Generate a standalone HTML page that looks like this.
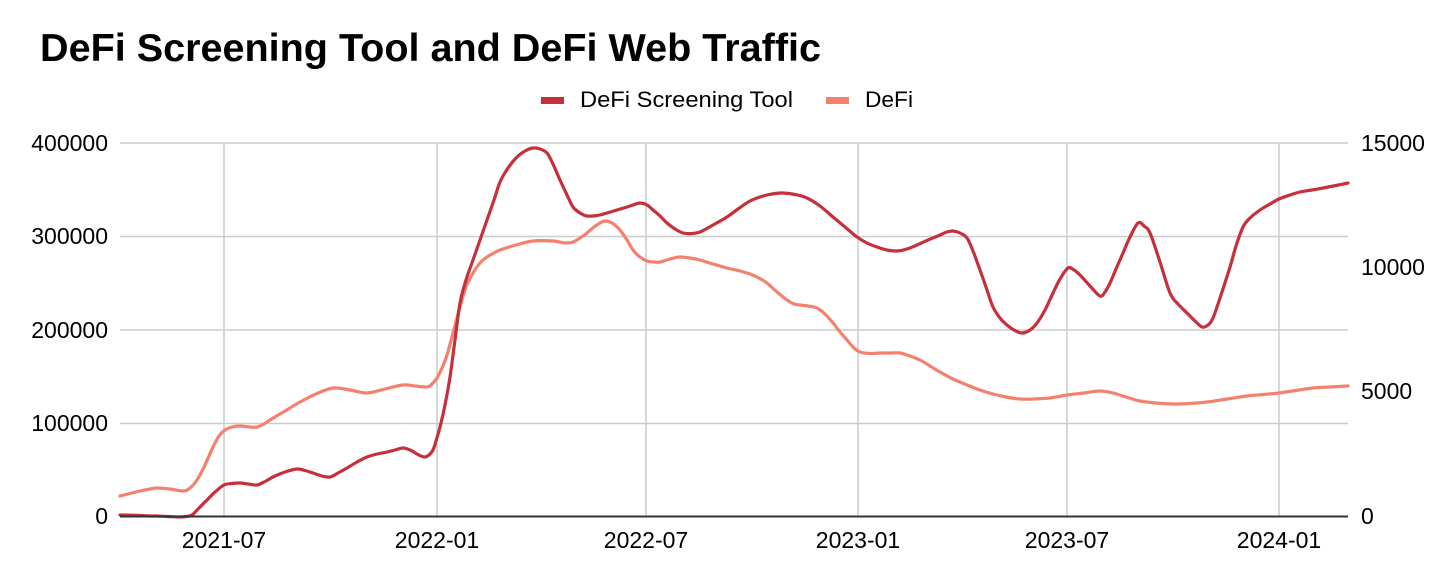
<!DOCTYPE html>
<html>
<head>
<meta charset="utf-8">
<style>
  html, body { margin:0; padding:0; background:#ffffff; }
  svg { display:block; }
  text { font-family: "Liberation Sans", Arial, Helvetica, sans-serif; fill:#000; }
</style>
</head>
<body>
<svg id="chart" width="1456" height="582" viewBox="0 0 1456 582" xmlns="http://www.w3.org/2000/svg">
  <rect x="0" y="0" width="1456" height="582" fill="#ffffff"/>

  <!-- Title -->
  <text x="40" y="61" font-size="39" font-weight="bold" textLength="781" lengthAdjust="spacingAndGlyphs">DeFi Screening Tool and DeFi Web Traffic</text>

  <!-- Legend -->
  <rect x="541" y="97" width="23" height="7" fill="#c5303a"/>
  <text x="580" y="107" font-size="22" textLength="213" lengthAdjust="spacingAndGlyphs">DeFi Screening Tool</text>
  <rect x="826" y="97" width="23" height="7" fill="#f4816e"/>
  <text x="865" y="107" font-size="22" textLength="48" lengthAdjust="spacingAndGlyphs">DeFi</text>

  <!-- Gridlines -->
  <g stroke="#cccccc" stroke-width="1.5">
    <line x1="120" y1="143" x2="1348" y2="143"/>
    <line x1="120" y1="236.5" x2="1348" y2="236.5"/>
    <line x1="120" y1="330" x2="1348" y2="330"/>
    <line x1="120" y1="423.5" x2="1348" y2="423.5"/>
    <line x1="224" y1="143" x2="224" y2="516"/>
    <line x1="437" y1="143" x2="437" y2="516"/>
    <line x1="646" y1="143" x2="646" y2="516"/>
    <line x1="858" y1="143" x2="858" y2="516"/>
    <line x1="1067" y1="143" x2="1067" y2="516"/>
    <line x1="1279" y1="143" x2="1279" y2="516"/>
  </g>

  <!-- Left axis labels -->
  <g font-size="23" text-anchor="end">
    <text x="108" y="151">400000</text>
    <text x="108" y="244">300000</text>
    <text x="108" y="338">200000</text>
    <text x="108" y="431">100000</text>
    <text x="108" y="524">0</text>
  </g>

  <!-- Right axis labels -->
  <g font-size="23" text-anchor="start">
    <text x="1361" y="151">15000</text>
    <text x="1361" y="275">10000</text>
    <text x="1361" y="399">5000</text>
    <text x="1361" y="524">0</text>
  </g>

  <!-- X axis labels -->
  <g font-size="23" text-anchor="middle">
    <text x="224" y="548">2021-07</text>
    <text x="437" y="548">2022-01</text>
    <text x="646" y="548">2022-07</text>
    <text x="858" y="548">2023-01</text>
    <text x="1067" y="548">2023-07</text>
    <text x="1279" y="548">2024-01</text>
  </g>

  <!-- DeFi (light) series -->
  <polyline class="smooth" fill="none" stroke="#f4816e" stroke-width="3.2" stroke-linejoin="round" stroke-linecap="round"
    points="120,496 130,493.5 140,491 150,489 157,488 170,489 183,491 190,488 197,480 205,465 213,447 219,436 225,430 232,427 240,426 250,427 257,427 264,424 270,420 285,411 300,402 316,394 333,388 350,390 367,393 385,389 403,385 415,386 427,387 432,384 437,378 442,368 447,355 453,333 460,307 466,287 473,273 480,263 487,257 494,253 500,250 516,245 533,241 553,241 565,243 573,242 580,238 587,233 594,227 600,223 605,221 610,222 615,225 620,230 627,240 633,250 640,257 647,261 654,262 660,262 670,259 680,257 690,258 700,260 713,264 727,268 740,271 750,274 759,278 767,283 777,292 787,300 794,304 800,305 808,306 817,308 825,314 833,323 840,332 847,340 853,347 860,352 870,353.5 880,353 890,353 900,353 910,356 920,360 930,366 940,372 953,379 967,385 980,390 993,394 1006,397 1020,399 1033,399 1050,398 1067,395 1084,393 1100,391 1113,393 1126,397 1140,401 1156,403 1173,404 1190,403.5 1207,402 1227,399 1247,396 1263,394.5 1279,393 1296,390.5 1313,388 1330,387 1348,386"/>

  <!-- DeFi Screening Tool (dark) series -->
  <polyline class="smooth" fill="none" stroke="#c5303a" stroke-width="3.2" stroke-linejoin="round" stroke-linecap="round"
    points="120,515 130,515.2 140,515.5 150,516 157,516 168,516.5 180,517 186,516.5 192,515 199,508 207,500 215,492 224,485 232,483.5 240,483 248,484 257,485 265,481.5 273,477 285,472 297,469 305,470.5 313,473 322,476 330,477 338,473 347,468 357,462 367,457 377,454 387,452 395,450 403,448 410,450 417,454 421,456 425,457 429,455 433,450 436,441 440,427 445,405 450,377 455,340 460,303 466,280 473,260 480,240 487,220 494,200 500,182 508,168 517,157 525,151 533,148 540,149 547,153 553,164 560,180 567,195 573,207 580,213 587,216 597,215.5 607,213 617,210 627,207 633,205 640,203 647,205 653,210 660,216 667,223 675,229 683,233 692,233.5 700,232 713,225 727,217 738,209 750,201 760,197 767,195 775,193.5 783,193 795,194.5 807,198 820,206 833,217 845,227 857,237 867,243 877,247 887,250 897,251 907,249 917,245 928,240 940,235 947,232 953,231 960,233 967,238 973,251 980,270 987,290 993,307 1000,318 1007,325 1014,330 1022,333 1030,330 1037,323 1045,310 1053,293 1060,279 1068,268 1074,270 1080,275 1090,286 1100,296 1105,292 1110,283 1116,269 1123,253 1130,237 1138,223 1144,226 1150,233 1160,262 1170,293 1178,304 1187,313 1195,321 1202,327 1208,325 1213,318 1220,298 1230,267 1236,246 1243,227 1250,218 1260,210 1270,204 1279,199 1290,195 1300,192 1312,190 1323,188 1336,185.5 1348,183"/>

  <!-- Baseline -->
  <line x1="120" y1="516.5" x2="1348" y2="516.5" stroke="#333333" stroke-width="2"/>
</svg>
<script>
(function(){
  try {
    var NS = "http://www.w3.org/2000/svg";
    var pls = document.querySelectorAll("polyline.smooth");
    for (var k = 0; k < pls.length; k++) {
      var pl = pls[k];
      var raw = pl.getAttribute("points").trim().split(/\s+/);
      var p = [];
      for (var i = 0; i < raw.length; i++) {
        var xy = raw[i].split(",");
        p.push([parseFloat(xy[0]), parseFloat(xy[1])]);
      }
      var d = "M" + p[0][0] + "," + p[0][1];
      for (var i = 0; i < p.length - 1; i++) {
        var p0 = p[i - 1] || p[i], p1 = p[i], p2 = p[i + 1], p3 = p[i + 2] || p2;
        var c1x = p1[0] + (p2[0] - p0[0]) / 6, c1y = p1[1] + (p2[1] - p0[1]) / 6;
        var c2x = p2[0] - (p3[0] - p1[0]) / 6, c2y = p2[1] - (p3[1] - p1[1]) / 6;
        d += " C" + c1x.toFixed(2) + "," + c1y.toFixed(2) + " " + c2x.toFixed(2) + "," + c2y.toFixed(2) + " " + p2[0] + "," + p2[1];
      }
      var path = document.createElementNS(NS, "path");
      path.setAttribute("d", d);
      path.setAttribute("fill", "none");
      path.setAttribute("stroke", pl.getAttribute("stroke"));
      path.setAttribute("stroke-width", pl.getAttribute("stroke-width"));
      path.setAttribute("stroke-linejoin", "round");
      path.setAttribute("stroke-linecap", "round");
      pl.parentNode.replaceChild(path, pl);
    }
  } catch (e) {}
})();
</script>
</body>
</html>
